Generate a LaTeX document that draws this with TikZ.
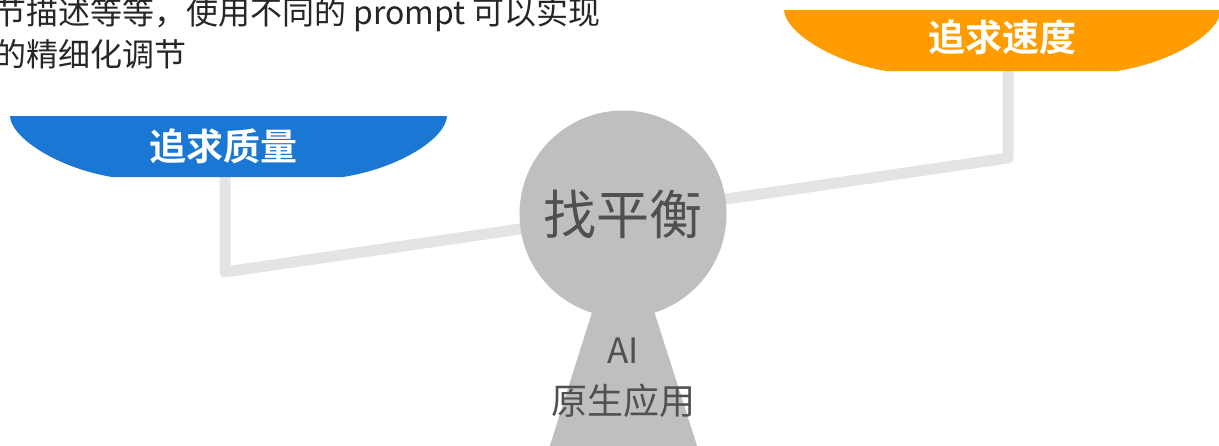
\documentclass[tikz,border=0pt]{standalone}
\usepackage{fontspec}
\setmainfont{Noto Sans CJK SC}[BoldFont={Noto Sans CJK SC Bold}]
\definecolor{bluebowl}{HTML}{1A77D3}
\definecolor{orangebowl}{HTML}{FF9C00}
\definecolor{beamgray}{HTML}{E4E4E4}
\definecolor{bodygray}{HTML}{BFBFBF}
\definecolor{labelgray}{HTML}{505050}
\definecolor{textdark}{HTML}{262626}
\tikzset{
  bowltitle/.style={text=white, font=\fontsize{37}{40}\selectfont\bfseries, inner sep=0pt},
  bodylabel/.style={text=labelgray, inner sep=0pt},
  beam/.style={draw=beamgray, line width=11pt, line join=round, line cap=round},
  note/.style={text=textdark, font=\fontsize{32}{40}\selectfont, inner sep=0pt, anchor=base west}
}
\begin{document}
\begin{tikzpicture}[x=1pt,y=-1pt]
\useasboundingbox (0,0) rectangle (1219,445);
\clip (0,0) rectangle (1219,445);
% beam
\coordinate (bl) at (225,178);
\coordinate (blc) at (225,272);
\coordinate (brc) at (1008,158);
\coordinate (br) at (1008,70);
\draw[beam] (bl) -- (blc) -- (brc) -- (br);
% body
\fill[bodygray] (623,214) -- (547,455) -- (700,455) -- cycle;
\fill[bodygray] (623,214) circle (103.5);
% bowls
\fill[bluebowl] (10,116) -- (447,116) .. controls (446,138) and (400,168) .. (343,177) -- (112,177) .. controls (58,168) and (11,138) .. (10,116) -- cycle;
\fill[orangebowl] (784,10) -- (1221,10) .. controls (1220,32) and (1174,62) .. (1117,71) -- (886,71) .. controls (832,62) and (785,32) .. (784,10) -- cycle;
% labels
\node[bowltitle] (quality) at (223,146) {追求质量};
\node[bowltitle] (speed) at (1002,37) {追求速度};
\node[bodylabel, font=\fontsize{53}{56}\selectfont] (balance) at (623,214) {找平衡};
\node[bodylabel, font=\fontsize{35}{40}\selectfont] (ai) at (623,351) {AI};
\node[bodylabel, font=\fontsize{36}{40}\selectfont] (native) at (623,401) {原生应用};
% note
\node[note] (note1) at (-6,24) {节描述等等，使用不同的 prompt 可以实现};
\node[note] (note2) at (-6,66) {的精细化调节};
\end{tikzpicture}
\end{document}
